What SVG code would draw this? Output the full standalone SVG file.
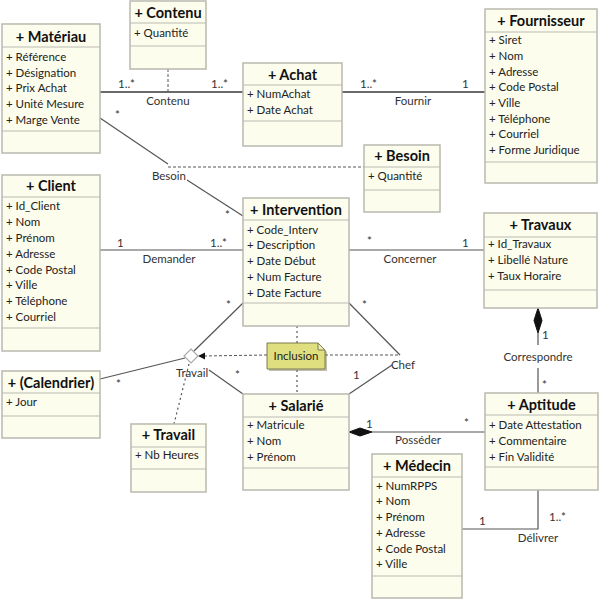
<svg xmlns="http://www.w3.org/2000/svg" width="600" height="600" viewBox="0 0 600 600">
<style>
.box{fill:#fdfdee;stroke:#b9b9b0;stroke-width:1.5}
.sep{stroke:#b9b9b0;stroke-width:1.2}
.t{font-family:Lato,"Liberation Sans",sans-serif;font-size:14.5px;font-weight:bold;fill:#111;text-anchor:middle}
.a{font-family:Lato,"Liberation Sans",sans-serif;font-size:11.5px;fill:#222}
.l{font-family:Lato,"Liberation Sans",sans-serif;font-size:11.5px;fill:#333}
.lm{font-family:Lato,"Liberation Sans",sans-serif;font-size:11.5px;fill:#333;text-anchor:middle}
.c{fill:none;stroke:#555;stroke-width:1.2}
.cg{fill:none;stroke:#6a6a6a;stroke-width:1.8}
.d{fill:none;stroke:#555;stroke-width:1;stroke-dasharray:3,2}
.dv{fill:none;stroke:#555;stroke-width:1.2;stroke-dasharray:2,3}
</style>
<rect width="600" height="600" fill="#fff"/>
<g id="connectors">
  <line class="cg" x1="100" y1="92" x2="243" y2="92"/>
  <line class="d" x1="168" y1="69" x2="168" y2="92"/>
  <line class="cg" x1="342" y1="92" x2="485" y2="92"/>
  <line class="c" x1="100" y1="118" x2="168" y2="164"/>
  <line class="c" x1="187" y1="180" x2="243" y2="216"/>
  <line class="d" x1="168" y1="167" x2="364" y2="167"/>
  <line class="c" x1="100" y1="250" x2="243" y2="250"/>
  <line class="c" x1="349" y1="250" x2="484" y2="250"/>
  <line class="c" x1="538" y1="333" x2="538" y2="345"/>
  <line class="c" x1="538" y1="368" x2="538" y2="393"/>
  <polygon points="538,308 542,320.5 538,333 534,320.5" fill="#111" stroke="#111"/>
  <line class="c" x1="372" y1="432" x2="485" y2="432"/>
  <polygon points="349,432 360,428 372,432 360,436" fill="#111" stroke="#111"/>
  <polyline class="c" points="538,490 538,529 462,529"/>
  <line class="c" x1="243" y1="303" x2="194" y2="351"/>
  <line class="c" x1="100" y1="379" x2="185" y2="358"/>
  <line class="c" x1="209" y1="370" x2="243" y2="394"/>
  <line class="dv" x1="189" y1="364" x2="174" y2="424"/>
  <line class="c" x1="349" y1="303" x2="400" y2="355"/>
  <line class="c" x1="392" y1="365" x2="349" y2="394"/>
  <line class="d" x1="325" y1="355" x2="400" y2="355"/>
  <line class="d" x1="267" y1="355" x2="204" y2="356"/>
  <polygon points="198,356 205,352.5 205,359.5" fill="#111"/>
  <line class="dv" x1="297" y1="326" x2="297" y2="343"/>
  <line class="dv" x1="297" y1="370" x2="297" y2="394"/>
  <polygon points="191,349 198,356 191,363 184,356" fill="#fff" stroke="#aaa" stroke-width="1.2"/>
  <text class="l" x="118" y="88">1..*</text>
  <text class="lm" x="168" y="105">Contenu</text>
  <text class="l" x="211" y="88">1..*</text>
  <text class="l" x="360" y="88">1..*</text>
  <text class="l" x="462" y="88">1</text>
  <text class="lm" x="413" y="105">Fournir</text>
  <text class="l" x="115" y="119">*</text>
  <text class="lm" x="169" y="180">Besoin</text>
  <text class="l" x="225" y="219">*</text>
  <text class="l" x="117" y="247">1</text>
  <text class="l" x="210" y="247">1..*</text>
  <text class="lm" x="169" y="263">Demander</text>
  <text class="l" x="367" y="245">*</text>
  <text class="l" x="462" y="247">1</text>
  <text class="lm" x="410" y="263">Concerner</text>
  <text class="l" x="542" y="339">1</text>
  <text class="lm" x="538" y="361">Correspondre</text>
  <text class="l" x="542" y="389">*</text>
  <text class="l" x="366" y="428">1</text>
  <text class="l" x="464" y="427">*</text>
  <text class="lm" x="418" y="444">Posséder</text>
  <text class="l" x="549" y="521">1..*</text>
  <text class="l" x="479" y="525">1</text>
  <text class="lm" x="538" y="542">Délivrer</text>
  <text class="l" x="226" y="309">*</text>
  <text class="l" x="362" y="309">*</text>
  <text class="l" x="116" y="388">*</text>
  <text class="l" x="235" y="379">*</text>
  <text class="l" x="353" y="379">1</text>
  <text class="lm" x="192" y="377">Travail</text>
  <text class="lm" x="403" y="369">Chef</text>
</g>
<g id="note-inclusion">
  <polygon points="269,345 320,345 327,352 327,371 269,371" fill="#8a8a70" opacity="0.55"/>
  <polygon points="267,343 318,343 325,350 325,369 267,369" fill="#dfdf80" stroke="#7d7d50" stroke-width="1"/>
  <polygon points="318,343 318,350 325,350" fill="#efefb8" stroke="#7d7d50" stroke-width="1"/>
  <text class="lm" x="296" y="360" style="fill:#222">Inclusion</text>
</g>
<g id="materiau">
  <rect class="box" x="2" y="24" width="98" height="129"/>
  <line class="sep" x1="2" y1="47" x2="100" y2="47"/>
  <line class="sep" x1="2" y1="131" x2="100" y2="131"/>
  <text class="t" x="51" y="42">+ Matériau</text>
  <text class="a" x="6" y="61">+ Référence</text>
  <text class="a" x="6" y="76.5">+ Désignation</text>
  <text class="a" x="6" y="92">+ Prix Achat</text>
  <text class="a" x="6" y="108">+ Unité Mesure</text>
  <text class="a" x="6" y="124">+ Marge Vente</text>
</g>
<g id="contenu">
  <rect class="box" x="130" y="1" width="76" height="68"/>
  <line class="sep" x1="130" y1="23" x2="206" y2="23"/>
  <line class="sep" x1="130" y1="46" x2="206" y2="46"/>
  <text class="t" x="168" y="18">+ Contenu</text>
  <text class="a" x="134" y="37">+ Quantité</text>
</g>
<g id="achat">
  <rect class="box" x="243" y="63" width="99" height="83"/>
  <line class="sep" x1="243" y1="85" x2="342" y2="85"/>
  <line class="sep" x1="243" y1="121" x2="342" y2="121"/>
  <text class="t" x="292.5" y="80">+ Achat</text>
  <text class="a" x="247" y="98">+ NumAchat</text>
  <text class="a" x="247" y="114">+ Date Achat</text>
</g>
<g id="fournisseur">
  <rect class="box" x="485" y="9" width="112" height="174"/>
  <line class="sep" x1="485" y1="32" x2="597" y2="32"/>
  <line class="sep" x1="485" y1="162" x2="597" y2="162"/>
  <text class="t" x="541" y="26">+ Fournisseur</text>
  <text class="a" x="489" y="44">+ Siret</text>
  <text class="a" x="489" y="60">+ Nom</text>
  <text class="a" x="489" y="76">+ Adresse</text>
  <text class="a" x="489" y="91">+ Code Postal</text>
  <text class="a" x="489" y="107">+ Ville</text>
  <text class="a" x="489" y="123">+ Téléphone</text>
  <text class="a" x="489" y="138">+ Courriel</text>
  <text class="a" x="489" y="154">+ Forme Juridique</text>
</g>
<g id="besoin">
  <rect class="box" x="364" y="145" width="76" height="67"/>
  <line class="sep" x1="364" y1="167" x2="440" y2="167"/>
  <line class="sep" x1="364" y1="190" x2="440" y2="190"/>
  <text class="t" x="402" y="161">+ Besoin</text>
  <text class="a" x="368" y="180">+ Quantité</text>
</g>
<g id="client">
  <rect class="box" x="2" y="175" width="98" height="176"/>
  <line class="sep" x1="2" y1="197" x2="100" y2="197"/>
  <line class="sep" x1="2" y1="328" x2="100" y2="328"/>
  <text class="t" x="51" y="191">+ Client</text>
  <text class="a" x="6" y="210">+ Id_Client</text>
  <text class="a" x="6" y="226">+ Nom</text>
  <text class="a" x="6" y="242">+ Prénom</text>
  <text class="a" x="6" y="258">+ Adresse</text>
  <text class="a" x="6" y="274">+ Code Postal</text>
  <text class="a" x="6" y="289">+ Ville</text>
  <text class="a" x="6" y="305">+ Téléphone</text>
  <text class="a" x="6" y="321">+ Courriel</text>
</g>
<g id="intervention">
  <rect class="box" x="243" y="198" width="106" height="128"/>
  <line class="sep" x1="243" y1="220" x2="349" y2="220"/>
  <line class="sep" x1="243" y1="303" x2="349" y2="303"/>
  <text class="t" x="296" y="215">+ Intervention</text>
  <text class="a" x="247" y="234">+ Code_Interv</text>
  <text class="a" x="247" y="249">+ Description</text>
  <text class="a" x="247" y="265">+ Date Début</text>
  <text class="a" x="247" y="281">+ Num Facture</text>
  <text class="a" x="247" y="297">+ Date Facture</text>
</g>
<g id="travaux">
  <rect class="box" x="484" y="213" width="113" height="95"/>
  <line class="sep" x1="484" y1="237" x2="597" y2="237"/>
  <line class="sep" x1="484" y1="290" x2="597" y2="290"/>
  <text class="t" x="540.5" y="230">+ Travaux</text>
  <text class="a" x="488" y="248">+ Id_Travaux</text>
  <text class="a" x="488" y="264">+ Libellé Nature</text>
  <text class="a" x="488" y="280">+ Taux Horaire</text>
</g>
<g id="aptitude">
  <rect class="box" x="485" y="393" width="113" height="97"/>
  <line class="sep" x1="485" y1="415" x2="598" y2="415"/>
  <line class="sep" x1="485" y1="467" x2="598" y2="467"/>
  <text class="t" x="541.5" y="410">+ Aptitude</text>
  <text class="a" x="489" y="429">+ Date Attestation</text>
  <text class="a" x="489" y="445">+ Commentaire</text>
  <text class="a" x="489" y="461">+ Fin Validité</text>
</g>
<g id="salarie">
  <rect class="box" x="243" y="394" width="106" height="96"/>
  <line class="sep" x1="243" y1="417" x2="349" y2="417"/>
  <line class="sep" x1="243" y1="468" x2="349" y2="468"/>
  <text class="t" x="296" y="411">+ Salarié</text>
  <text class="a" x="247" y="429">+ Matricule</text>
  <text class="a" x="247" y="445">+ Nom</text>
  <text class="a" x="247" y="461">+ Prénom</text>
</g>
<g id="medecin">
  <rect class="box" x="372" y="454" width="90" height="144"/>
  <line class="sep" x1="372" y1="477" x2="462" y2="477"/>
  <line class="sep" x1="372" y1="576" x2="462" y2="576"/>
  <text class="t" x="417" y="471">+ Médecin</text>
  <text class="a" x="376" y="490">+ NumRPPS</text>
  <text class="a" x="376" y="505">+ Nom</text>
  <text class="a" x="376" y="521">+ Prénom</text>
  <text class="a" x="376" y="537">+ Adresse</text>
  <text class="a" x="376" y="553">+ Code Postal</text>
  <text class="a" x="376" y="568">+ Ville</text>
</g>
<g id="calendrier">
  <rect class="box" x="2" y="371" width="98" height="67"/>
  <line class="sep" x1="2" y1="393" x2="100" y2="393"/>
  <line class="sep" x1="2" y1="416" x2="100" y2="416"/>
  <text class="t" x="51" y="388">+ (Calendrier)</text>
  <text class="a" x="6" y="406">+ Jour</text>
</g>
<g id="travail">
  <rect class="box" x="131" y="424" width="75" height="68"/>
  <line class="sep" x1="131" y1="447" x2="206" y2="447"/>
  <line class="sep" x1="131" y1="469" x2="206" y2="469"/>
  <text class="t" x="168.5" y="440">+ Travail</text>
  <text class="a" x="135" y="459">+ Nb Heures</text>
</g>
</svg>
